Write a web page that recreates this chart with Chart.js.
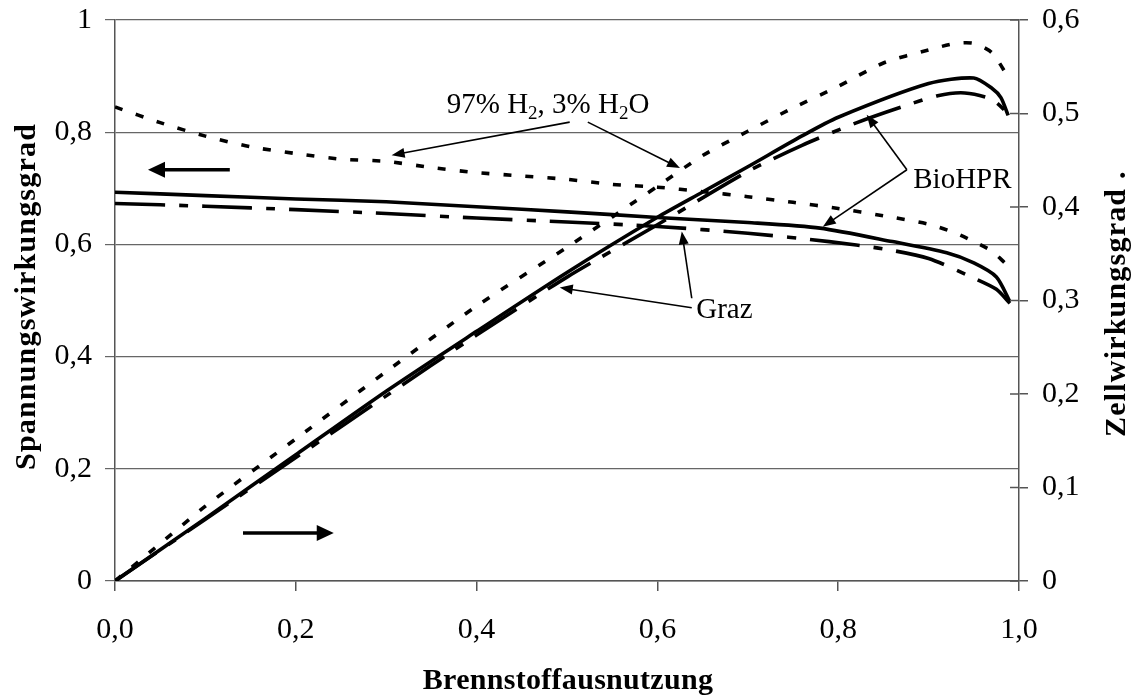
<!DOCTYPE html>
<html>
<head>
<meta charset="utf-8">
<script src="https://cdn.jsdelivr.net/npm/chart.js"></script>
<style>
  html, body { margin: 0; padding: 0; background: #fff; }
  #wrap { width: 1136px; height: 699px; }
</style>
</head>
<body>
<div id="wrap"><canvas id="chart" width="1136" height="699"></canvas></div>
<script>
// Brennstoffausnutzung (x) und Wirkungsgrade
var h2VoltX   = [0, 0.05, 0.1, 0.15, 0.2, 0.25, 0.3, 0.35, 0.4, 0.45, 0.5, 0.55, 0.6, 0.65, 0.7, 0.75, 0.8, 0.85, 0.9, 0.93, 0.95, 0.97, 0.985];
var h2VoltY   = [0.845, 0.817, 0.793, 0.774, 0.762, 0.752, 0.748, 0.737, 0.728, 0.722, 0.716, 0.707, 0.702, 0.694, 0.685, 0.675, 0.664, 0.651, 0.636, 0.62, 0.605, 0.588, 0.566];

var bioVoltX  = [0, 0.1, 0.2, 0.3, 0.4, 0.5, 0.6, 0.7, 0.78, 0.86, 0.92, 0.95, 0.975, 0.99];
var bioVoltY  = [0.693, 0.687, 0.681, 0.676, 0.667, 0.658, 0.648, 0.639, 0.629, 0.605, 0.585, 0.567, 0.542, 0.498];

var grazVoltX = [0, 0.1, 0.2, 0.3, 0.4, 0.5, 0.6, 0.7, 0.79, 0.85, 0.9, 0.95, 0.975, 0.99];
var grazVoltY = [0.673, 0.668, 0.662, 0.655, 0.647, 0.64, 0.632, 0.62, 0.605, 0.592, 0.575, 0.54, 0.52, 0.495];

var h2CellX   = [0, 0.05, 0.1, 0.2, 0.3, 0.4, 0.5, 0.6, 0.65, 0.7, 0.75, 0.8, 0.85, 0.9, 0.93, 0.95, 0.97, 0.988];
var h2CellY   = [0, 0.04, 0.08, 0.152, 0.224, 0.294, 0.357, 0.422, 0.455, 0.481, 0.506, 0.529, 0.554, 0.568, 0.575, 0.575, 0.565, 0.539];

var bioCellX  = [0, 0.1, 0.2, 0.3, 0.4, 0.5, 0.6, 0.65, 0.7, 0.76, 0.8, 0.9, 0.95, 0.97, 0.98, 0.988];
var bioCellY  = [0, 0.067, 0.135, 0.203, 0.267, 0.33, 0.389, 0.416, 0.443, 0.476, 0.496, 0.532, 0.538, 0.527, 0.517, 0.498];

var grazCellX = [0, 0.1, 0.2, 0.3, 0.4, 0.5, 0.6, 0.7, 0.76, 0.82, 0.87, 0.91, 0.94, 0.97, 0.99];
var grazCellY = [0, 0.066, 0.132, 0.198, 0.263, 0.325, 0.381, 0.438, 0.466, 0.49, 0.507, 0.519, 0.522, 0.515, 0.498];

var xTitle  = "Brennstoffausnutzung";
var yTitle  = "Spannungswirkungsgrad";
var y2Title = "Zellwirkungsgrad .";

function pts(xs, ys) {
  return xs.map(function (x, i) { return { x: x, y: ys[i] }; });
}

var DOT = [8, 14];
var DASHDOT = [50, 14, 9, 14];
var LW = 3.6;
var serif = "'Liberation Serif', 'Times New Roman', serif";

function line(label, data, axis, dash) {
  return {
    label: label, data: data, yAxisID: axis,
    borderColor: "#000", borderWidth: LW, borderDash: dash,
    pointRadius: 0, tension: 0.25, fill: false
  };
}

function fmtY(v) {
  if (Math.abs(v) < 1e-9) return "0";
  if (Math.abs(v - 1) < 1e-9) return "1";
  return v.toFixed(1).replace(".", ",");
}

// keep the plot area where the reference has it
function noPad(s) {
  s.paddingTop = 0;
  s.paddingBottom = 0;
}

function arrow(ctx, x1, y1, x2, y2, lw, hl, hw) {
  var a = Math.atan2(y2 - y1, x2 - x1);
  ctx.save();
  ctx.lineWidth = lw;
  ctx.strokeStyle = "#000";
  ctx.fillStyle = "#000";
  ctx.beginPath();
  ctx.moveTo(x1, y1);
  ctx.lineTo(x2 - Math.cos(a) * hl * 0.8, y2 - Math.sin(a) * hl * 0.8);
  ctx.stroke();
  ctx.beginPath();
  ctx.moveTo(x2, y2);
  ctx.lineTo(x2 - Math.cos(a) * hl + Math.sin(a) * hw, y2 - Math.sin(a) * hl - Math.cos(a) * hw);
  ctx.lineTo(x2 - Math.cos(a) * hl - Math.sin(a) * hw, y2 - Math.sin(a) * hl + Math.cos(a) * hw);
  ctx.closePath();
  ctx.fill();
  ctx.restore();
}

var decor = {
  id: "decor",
  afterDraw: function (chart) {
    var ctx = chart.ctx, xs = chart.scales.x, ys = chart.scales.y, y2 = chart.scales.y2;
    var area = chart.chartArea;
    function px(v) { return xs.getPixelForValue(v); }
    function py(v) { return ys.getPixelForValue(v); }

    // inner tick marks of the right axis
    ctx.save();
    ctx.strokeStyle = "#555";
    ctx.lineWidth = 1.5;
    y2.ticks.forEach(function (t) {
      var yy = y2.getPixelForValue(t.value);
      ctx.beginPath();
      ctx.moveTo(area.right - 9, yy);
      ctx.lineTo(area.right, yy);
      ctx.stroke();
    });
    ctx.restore();

    // direction arrows
    arrow(ctx, px(0.127), py(0.733), px(0.0365), py(0.733), 3.6, 17, 8);
    arrow(ctx, px(0.1416), py(0.0856), px(0.242), py(0.0856), 3.6, 17, 8);

    // annotation arrows
    arrow(ctx, px(0.503), py(0.818), px(0.306), py(0.759), 1.6, 13, 5);
    arrow(ctx, px(0.523), py(0.818), px(0.625), py(0.736), 1.6, 13, 5);
    arrow(ctx, px(0.876), py(0.733), px(0.8315), py(0.831), 1.6, 13, 5);
    arrow(ctx, px(0.876), py(0.733), px(0.783), py(0.6315), 1.6, 13, 5);
    arrow(ctx, px(0.638), py(0.504), px(0.627), py(0.623), 1.6, 13, 5);
    arrow(ctx, px(0.638), py(0.487), px(0.492), py(0.523), 1.6, 13, 5);

    // annotation texts
    ctx.save();
    ctx.fillStyle = "#000";
    ctx.textBaseline = "alphabetic";
    ctx.textAlign = "left";
    var big = "29px " + serif, sub = "19px " + serif;
    var parts = [["97% H", big, 0], ["2", sub, 6], [", 3% H", big, 0], ["2", sub, 6], ["O", big, 0]];
    var cx = px(0.367), by = py(0.834);
    parts.forEach(function (p) {
      ctx.font = p[1];
      ctx.fillText(p[0], cx, by + p[2]);
      cx += ctx.measureText(p[0]).width;
    });
    ctx.font = big;
    ctx.fillText("BioHPR", px(0.883), py(0.700));
    ctx.fillText("Graz", px(0.643), py(0.469));

    // axis titles
    ctx.font = "bold 30px " + serif;
    ctx.letterSpacing = "0.3px";
    ctx.textAlign = "center";
    ctx.fillText(xTitle, 568, 689);
    ctx.textAlign = "left";
    ctx.letterSpacing = "1.2px";
    ctx.save();
    ctx.translate(35, 470);
    ctx.rotate(-Math.PI / 2);
    ctx.fillText(yTitle, 0, 0);
    ctx.restore();
    ctx.save();
    ctx.translate(1125, 437);
    ctx.rotate(-Math.PI / 2);
    ctx.fillText(y2Title, 0, 0);
    ctx.restore();
    ctx.restore();
  }
};

var tickFont = { family: serif, size: 30 };

new Chart("chart", {
  type: "line",
  data: {
    datasets: [
      line("97% H2 Spannung", pts(h2VoltX, h2VoltY), "y", DOT),
      line("BioHPR Spannung", pts(bioVoltX, bioVoltY), "y", []),
      line("Graz Spannung", pts(grazVoltX, grazVoltY), "y", DASHDOT),
      line("97% H2 Zelle", pts(h2CellX, h2CellY), "y2", DOT),
      line("BioHPR Zelle", pts(bioCellX, bioCellY), "y2", []),
      line("Graz Zelle", pts(grazCellX, grazCellY), "y2", DASHDOT)
    ]
  },
  options: {
    responsive: false,
    animation: false,
    layout: { padding: { top: 20, left: 0, right: 0, bottom: 0 } },
    plugins: { legend: { display: false }, tooltip: { enabled: false } },
    scales: {
      x: {
        type: "linear", position: "bottom", min: 0, max: 1,
        ticks: { stepSize: 0.2, color: "#000", font: tickFont, padding: 21,
          callback: function (v) { return v.toFixed(1).replace(".", ","); } },
        grid: { drawOnChartArea: false, tickLength: 10, color: "#555", lineWidth: 1.5 },
        border: { color: "#555", width: 1.5 },
        afterFit: function (s) { s.height = 118; }
      },
      y: {
        position: "left", min: 0, max: 1,
        ticks: { stepSize: 0.2, color: "#000", font: tickFont, padding: 13, callback: fmtY },
        grid: { color: "#666", lineWidth: 1.2, tickLength: 10 },
        border: { color: "#555", width: 1.5 },
        afterFit: function (s) { s.width = 115; noPad(s); }
      },
      y2: {
        position: "right", min: 0, max: 0.6,
        ticks: { stepSize: 0.1, color: "#000", font: tickFont, padding: 14, callback: fmtY },
        grid: { drawOnChartArea: false, tickLength: 9, color: "#555", lineWidth: 1.5 },
        border: { color: "#555", width: 1.5 },
        afterFit: function (s) { s.width = 117; noPad(s); }
      }
    }
  },
  plugins: [decor]
});
</script>
</body>
</html>
